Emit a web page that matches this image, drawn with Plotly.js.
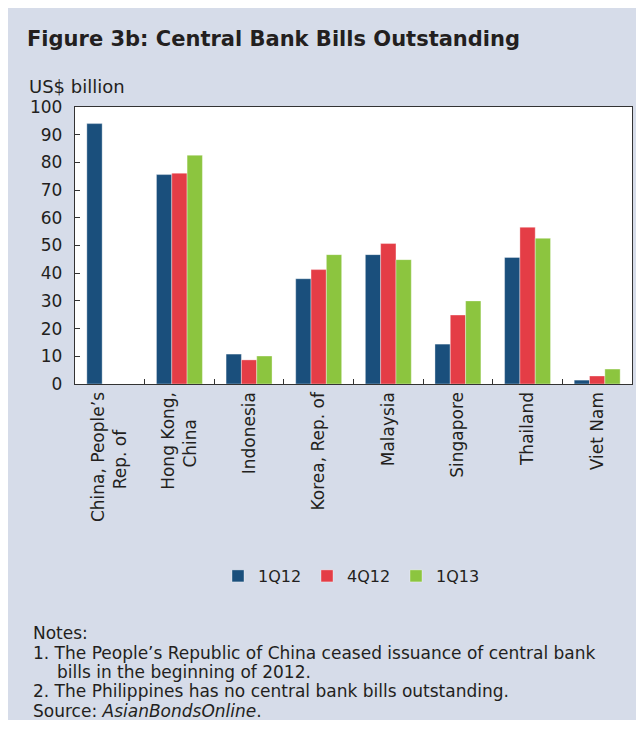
<!DOCTYPE html>
<html>
<head>
<meta charset="utf-8">
<script src="https://cdn.plot.ly/plotly-3.0.1.min.js"></script>
<style>
  html, body { margin: 0; padding: 0; background: #ffffff; }
  #chart { position: absolute; left: 8px; top: 8px; width: 628px; height: 712px; }
</style>
</head>
<body>
<div id="chart"></div>
<script>
const categories = ['China, People\u2019s Rep. of', 'Hong Kong, China', 'Indonesia', 'Korea, Rep. of', 'Malaysia', 'Singapore', 'Thailand', 'Viet Nam'];
const NB = '\u00A0';
const tickLabels = ['China, People\u2019s<br>Rep. of' + NB.repeat(7), 'Hong Kong,<br>China' + NB.repeat(5), 'Indonesia', 'Korea, Rep. of', 'Malaysia', 'Singapore', 'Thailand', 'Viet Nam'];
const seriesNames = ['1Q12', '4Q12', '1Q13'];
const q1_2012 = [94.0, 75.6, 10.8, 38.0, 46.7, 14.4, 45.7, 1.4];
const q4_2012 = [null, 76.1, 8.7, 41.3, 50.7, 24.9, 56.6, 2.9];
const q1_2013 = [null, 82.6, 10.1, 46.7, 44.9, 30.0, 52.6, 5.4];
const yTicks = [0, 10, 20, 30, 40, 50, 60, 70, 80, 90, 100];
const noteLines = [
  'Notes:',
  '1. The People\u2019s Republic of China ceased issuance of central bank',
  'bills in the beginning of 2012.',
  '2. The Philippines has no central bank bills outstanding.',
  'Source: <i>AsianBondsOnline</i>.'
];

const colors = ['#1a4f7c', '#e43d46', '#8cc53f'];
const allSeries = [q1_2012, q4_2012, q1_2013];
const FONT = 'DejaVu Sans, Verdana, sans-serif';
const TXT = '#231f20';

const traces = allSeries.map((vals, i) => ({
  type: 'bar',
  name: seriesNames[i],
  x: categories,
  y: vals,
  marker: { color: colors[i], line: { width: 0.6, color: 'rgba(255,255,255,0.6)' } },
  hoverinfo: 'x+y+name'
}));

// geometry of plot area in div pixels
const W = 628, H = 712, L = 67, R = 4, T = 99, B = 336;
const pw = W - L - R, ph = H - T - B;
const px = (x) => (x - L) / pw;
const py = (y) => (H - B - y) / ph;

// note line positions (div px): left x, center y
const noteX = [23, 23, 47, 23, 23];
const noteY = [625, 645, 664, 683, 703];

const annotations = [
  {
    text: 'US$ billion',
    xref: 'paper', yref: 'paper',
    x: px(19), xanchor: 'left',
    y: py(78), yanchor: 'middle',
    showarrow: false,
    font: { size: 18, family: FONT, color: TXT }
  }
].concat(noteLines.map((t, i) => ({
  text: t,
  xref: 'paper', yref: 'paper',
  x: px(noteX[i]), xanchor: 'left',
  y: py(noteY[i]), yanchor: 'middle',
  align: 'left',
  showarrow: false,
  font: { size: 17, family: FONT, color: TXT }
})));

const layout = {
  width: W, height: H,
  margin: { l: L, r: R, t: T, b: B, pad: 0 },
  paper_bgcolor: '#d6dce9',
  plot_bgcolor: '#ffffff',
  font: { family: FONT, color: TXT, size: 17 },
  title: {
    text: '<b>Figure 3b: Central Bank Bills Outstanding</b>',
    font: { family: FONT, size: 21, color: TXT },
    xref: 'container', yref: 'container',
    x: 19 / W, xanchor: 'left',
    y: 1 - 31 / H, yanchor: 'middle'
  },
  barmode: 'group',
  bargap: 0.34,
  bargroupgap: 0,
  showlegend: true,
  legend: {
    orientation: 'h',
    x: px(210), xanchor: 'left',
    y: py(568), yanchor: 'middle',
    font: { size: 16, family: FONT, color: TXT },
    bgcolor: 'rgba(0,0,0,0)',
    borderwidth: 0,
    itemwidth: 30,
    entrywidth: 44,
    entrywidthmode: 'pixels',
    traceorder: 'normal'
  },
  xaxis: {
    type: 'category',
    tickmode: 'array',
    tickvals: categories,
    ticktext: tickLabels,
    tickangle: -90,
    ticks: 'inside',
    tickson: 'boundaries',
    ticklen: 5,
    tickcolor: '#333333',
    showline: true,
    linecolor: '#333333',
    linewidth: 1.2,
    mirror: true,
    showgrid: false,
    zeroline: false,
    tickfont: { size: 17, family: FONT, color: TXT },
    fixedrange: true
  },
  yaxis: {
    range: [0, 100],
    tickmode: 'array',
    tickvals: yTicks,
    ticktext: yTicks.map(String),
    ticks: 'inside',
    ticklen: 5,
    tickcolor: '#333333',
    showline: true,
    linecolor: '#333333',
    linewidth: 1.2,
    mirror: true,
    showgrid: false,
    zeroline: false,
    tickfont: { size: 17, family: FONT, color: TXT },
    ticklabelstandoff: 8,
    fixedrange: true
  },
  annotations: annotations
};

Plotly.newPlot('chart', traces, layout, { displayModeBar: false, staticPlot: true });
</script>
</body>
</html>
